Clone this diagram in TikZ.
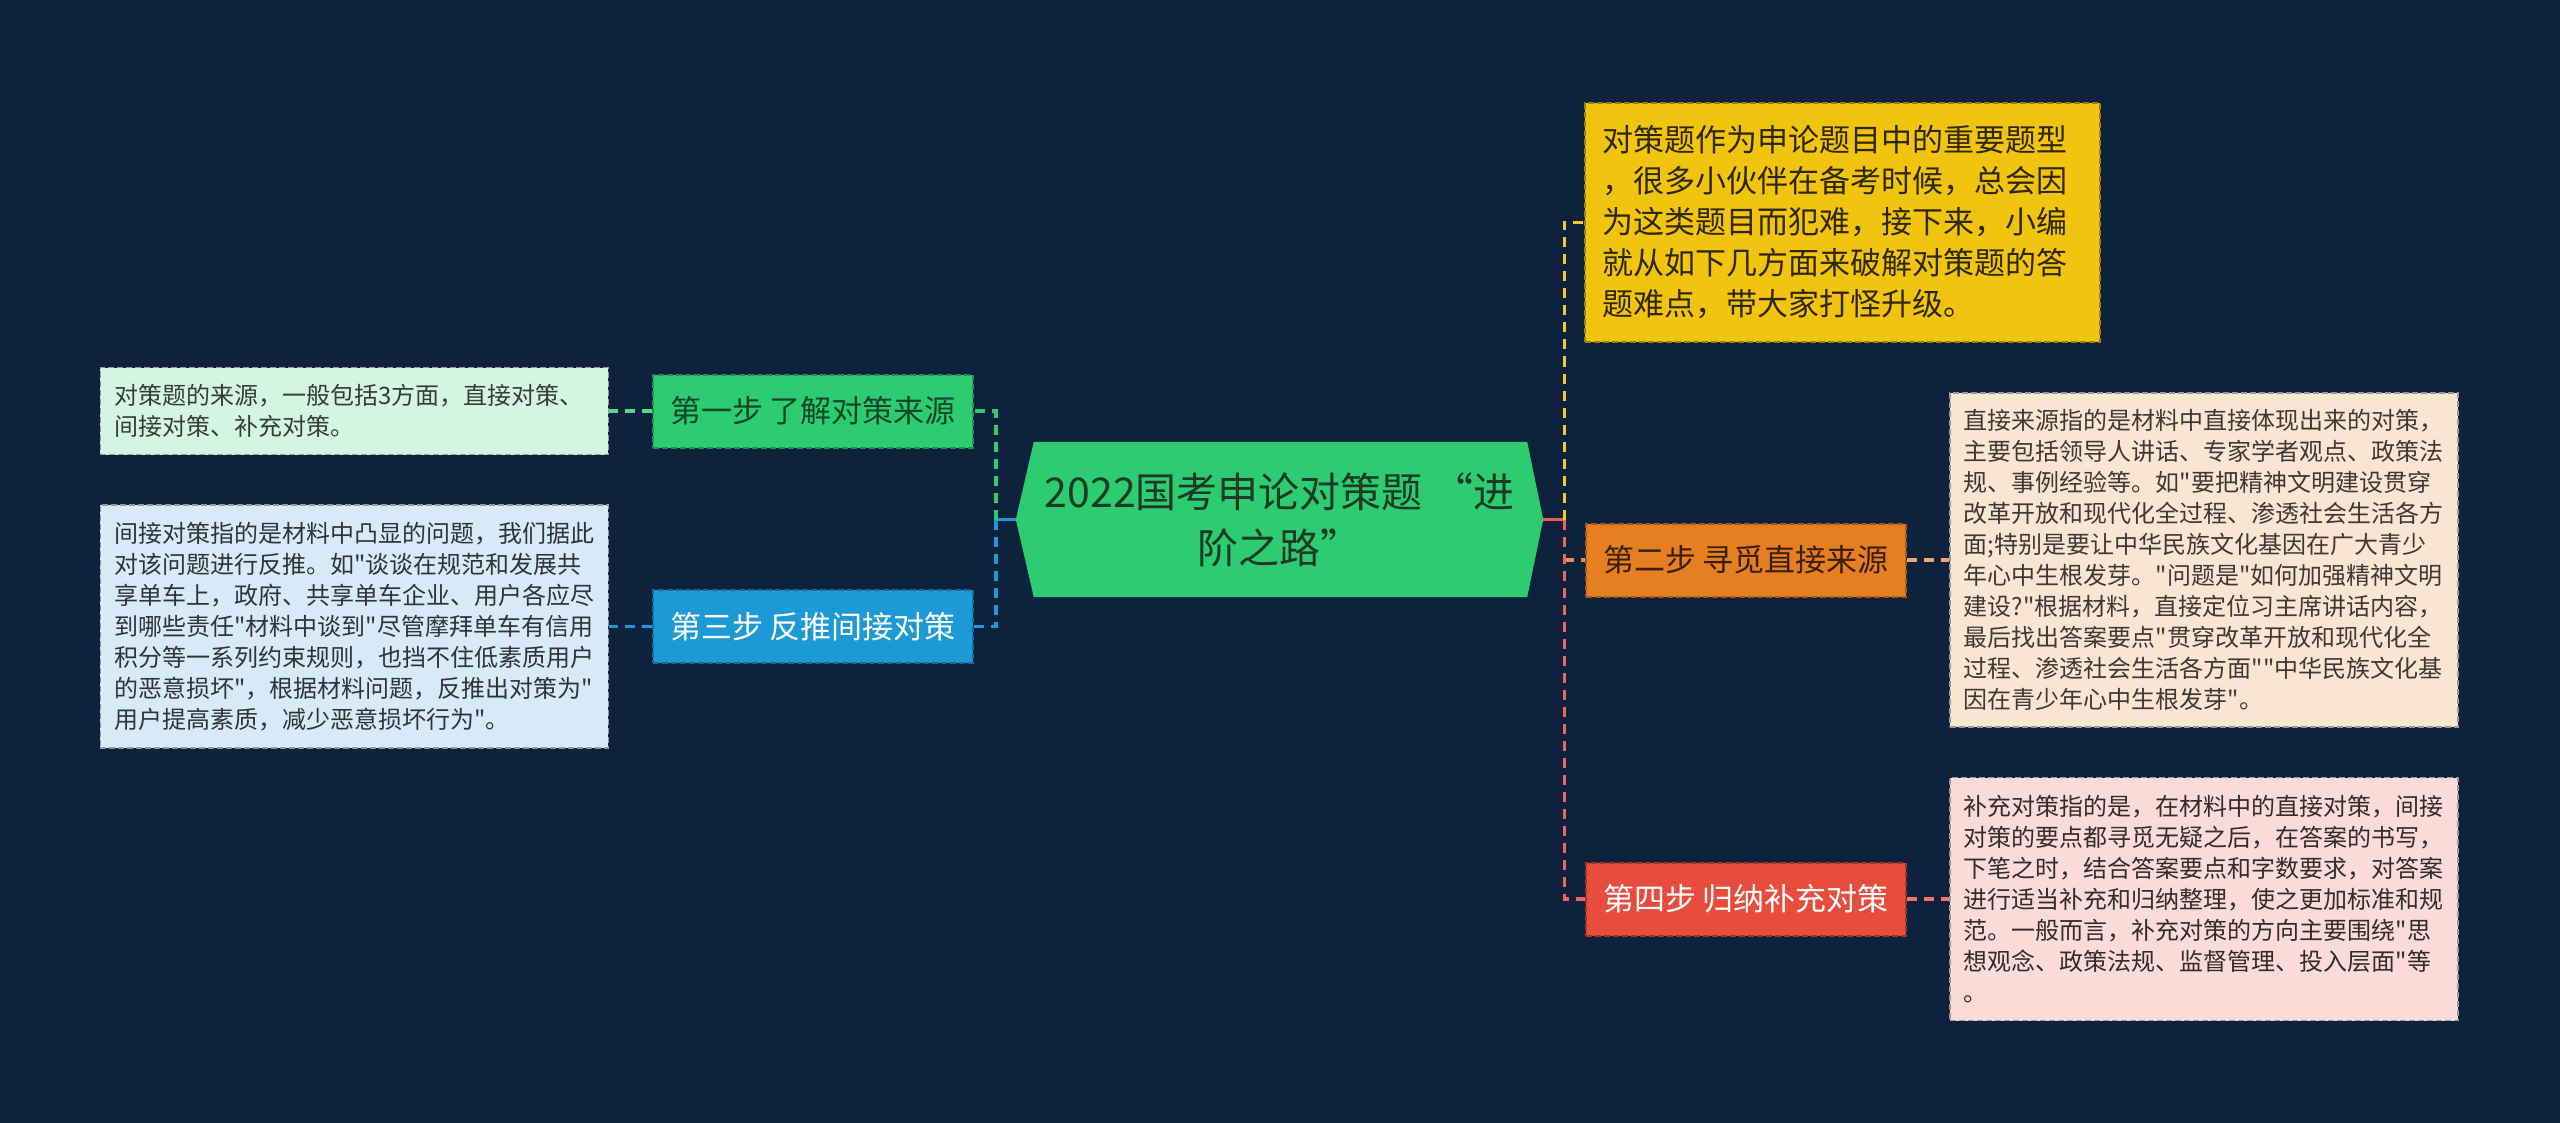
\documentclass[tikz,border=0pt]{standalone}
\usepackage{fontspec}
\newfontfamily\cjk{Noto Sans CJK SC}
\usepackage{tikz}
\usetikzlibrary{positioning,backgrounds,calc}

\definecolor{navy}{HTML}{0E223D}
\definecolor{rootgreen}{HTML}{2ECC71}
\definecolor{rootink}{HTML}{1C3A26}
\definecolor{stepgreen}{HTML}{2ECC71}
\definecolor{stepblue}{HTML}{1D9AD6}
\definecolor{steporange}{HTML}{E67E22}
\definecolor{stepred}{HTML}{E74C3C}
\definecolor{introyellow}{HTML}{F1C40F}
\definecolor{notemint}{HTML}{D5F5E3}
\definecolor{noteblue}{HTML}{D6EAF8}
\definecolor{notepeach}{HTML}{FAE5D3}
\definecolor{notepink}{HTML}{FADBD8}

\begin{document}
\begin{tikzpicture}[
    x=1pt, y=-1pt,
    rootbox/.style={rectangle, minimum width=527pt, minimum height=155pt, inner sep=0pt, align=center, text=rootink, font=\cjk\fontsize{41pt}{56pt}\selectfont},
    stepbox/.style={rectangle, draw, line width=2pt, dash pattern=on 6pt off 3pt, minimum width=320pt, minimum height=73pt, inner sep=0pt, font=\cjk\fontsize{31pt}{38pt}\selectfont},
    introbox/.style={rectangle, draw=introyellow!65!black, fill=introyellow, line width=2pt, dash pattern=on 6pt off 3pt, text width=481pt, inner xsep=17pt, minimum height=239pt, align=left, text=black!80!introyellow, font=\cjk\fontsize{31pt}{41pt}\selectfont},
    notebox/.style={rectangle, draw=black!40, line width=1.5pt, dash pattern=on 6pt off 3pt, text width=480pt, inner xsep=14pt, inner ysep=0pt, align=left, font=\cjk\fontsize{24pt}{31pt}\selectfont},
    link/.style={line width=3.4pt, dash pattern=on 10pt off 7pt},
    stem/.style={line width=3.4pt}
]
\useasboundingbox (0,0) rectangle (2560,1123);
\begin{scope}[on background layer]
  \fill[navy] (0,0) rectangle (2560,1123);
\end{scope}

% Central topic
\node[rootbox] (root) at (1279.5,519.5) {2022国考申论对策题 “进\\阶之路”};
\begin{scope}[on background layer]
  \fill[rootgreen] (root.west) -- ([xshift=18pt]root.north west) -- ([xshift=-16pt]root.north east)
    -- (root.east) -- ([xshift=-16pt]root.south east) -- ([xshift=18pt]root.south west) -- cycle;
\end{scope}

% Steps
\node[stepbox, fill=stepgreen, draw=stepgreen!70!black, text=stepgreen!35!black] (step1) at (813,411) {第一步 了解对策来源};
\node[stepbox, fill=stepblue, draw=stepblue!70!black, text=white] (step3) at (813,626.5) {第三步 反推间接对策};
\node[stepbox, fill=steporange, draw=steporange!70!black, text=steporange!25!black] (step2) at (1746,560) {第二步 寻觅直接来源};
\node[stepbox, fill=stepred, draw=stepred!70!black, text=white] (step4) at (1746,899) {第四步 归纳补充对策};

% Intro
\node[introbox] (intro) at (1842.5,222.5) {对策题作为申论题目中的重要题型\\
，很多小伙伴在备考时候，总会因\\
为这类题目而犯难，接下来，小编\\
就从如下几方面来破解对策题的答\\
题难点，带大家打怪升级。};

% Notes
\node[notebox, fill=notemint, text=notemint!25!black, minimum height=87pt, left=43pt of step1] (note1) {对策题的来源，一般包括3方面，直接对策、\\
间接对策、补充对策。};
\node[notebox, fill=noteblue, text=noteblue!22!black, minimum height=243pt, left=43pt of step3] (note2) {间接对策指的是材料中凸显的问题，我们据此\\
对该问题进行反推。如"谈谈在规范和发展共\\
享单车上，政府、共享单车企业、用户各应尽\\
到哪些责任"材料中谈到"尽管摩拜单车有信用\\
积分等一系列约束规则，也挡不住低素质用户\\
的恶意损坏"，根据材料问题，反推出对策为"\\
用户提高素质，减少恶意损坏行为"。};
\node[notebox, fill=notepeach, text=notepeach!25!black, minimum height=334pt, right=42pt of step2] (note3) {直接来源指的是材料中直接体现出来的对策，\\
主要包括领导人讲话、专家学者观点、政策法\\
规、事例经验等。如"要把精神文明建设贯穿\\
改革开放和现代化全过程、渗透社会生活各方\\
面;特别是要让中华民族文化基因在广大青少\\
年心中生根发芽。"问题是"如何加强精神文明\\
建设?"根据材料，直接定位习主席讲话内容，\\
最后找出答案要点"贯穿改革开放和现代化全\\
过程、渗透社会生活各方面""中华民族文化基\\
因在青少年心中生根发芽"。};
\node[notebox, fill=notepink, text=notepink!20!black, minimum height=243pt, right=42pt of step4] (note4) {补充对策指的是，在材料中的直接对策，间接\\
对策的要点都寻觅无疑之后，在答案的书写，\\
下笔之时，结合答案要点和字数要求，对答案\\
进行适当补充和归纳整理，使之更加标准和规\\
范。一般而言，补充对策的方向主要围绕"思\\
想观念、政策法规、监督管理、投入层面"等\\
。};

% Branches
\coordinate (lbus) at ($(root.west)+(-20pt,0)$);
\coordinate (rbus) at ($(root.east)+(21pt,0)$);
\draw[stem, stepblue] (root.west) -- (lbus);
\draw[link, stepgreen] (lbus) |- (step1);
\draw[link, stepblue] (lbus) |- (step3);
\draw[stem, stepred!90!white] (root.east) -- (rbus);
\draw[link, introyellow!90!white] (rbus) |- (intro);
\draw[link, steporange!85!white] (rbus |- step2) -- (step2);
\draw[link, stepred!85!white] (rbus) |- (step4);

% Leaves
\draw[link, stepgreen!80!white] (step1) -- (note1);
\draw[link, stepblue] (step3) -- (note2);
\draw[link, steporange!60!notepeach] (step2) -- (note3);
\draw[link, stepred!70!notepink] (step4) -- (note4);

\end{tikzpicture}
\end{document}
